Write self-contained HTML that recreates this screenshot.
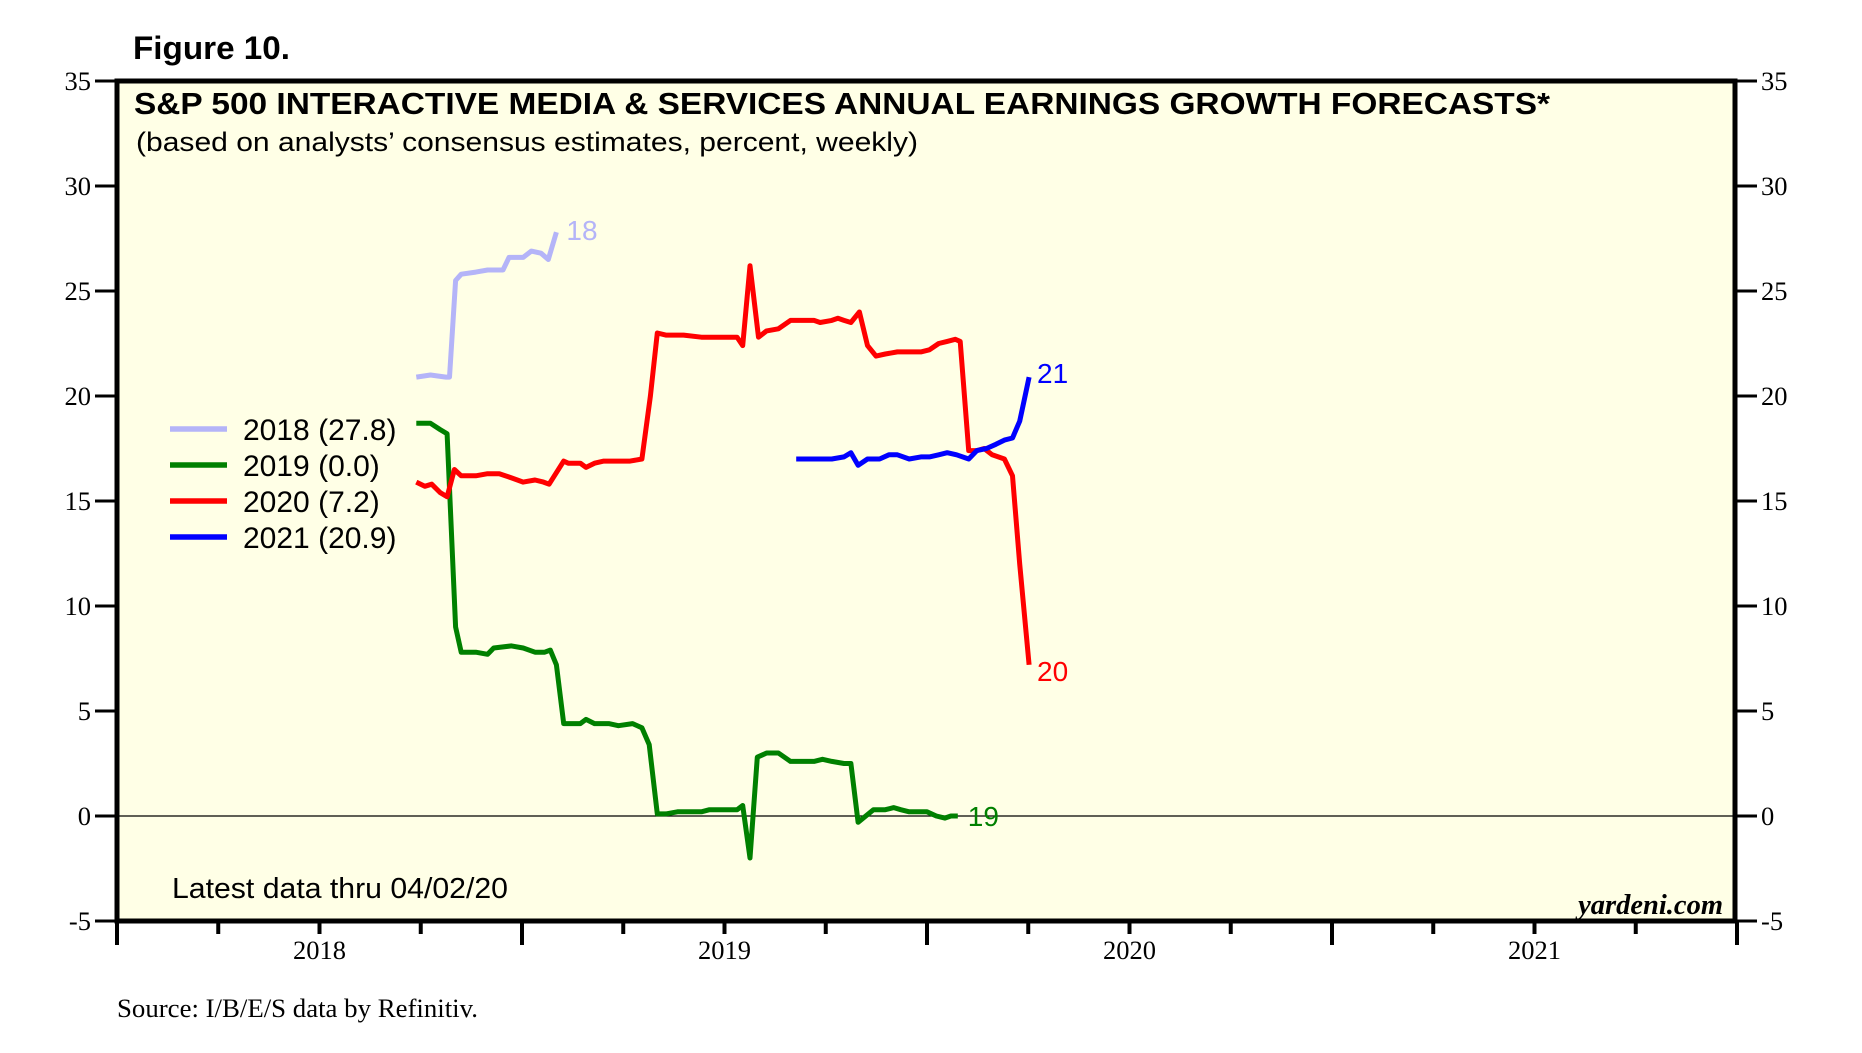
<!DOCTYPE html>
<html><head><meta charset="utf-8"><style>
html,body{margin:0;padding:0;background:#fff;}
svg{display:block;}
</style></head><body>
<svg id="chart" width="1862" height="1053" viewBox="0 0 1862 1053" xmlns="http://www.w3.org/2000/svg">
<rect x="117" y="81" width="1618" height="840" fill="#ffffe6"/>
<g id="grid"></g>
<g id="series"></g>
<rect x="117" y="81" width="1618" height="840" fill="none" stroke="#000" stroke-width="5"/>
<g id="axes" font-family="'Liberation Serif',serif" font-size="26.5" fill="#000"></g>
<text x="133" y="59" font-family="'Liberation Sans',sans-serif" font-weight="bold" font-size="32" textLength="157" lengthAdjust="spacingAndGlyphs">Figure 10.</text>
<text x="134" y="114" font-family="'Liberation Sans',sans-serif" font-weight="bold" font-size="30.5" textLength="1416" lengthAdjust="spacingAndGlyphs">S&amp;P 500 INTERACTIVE MEDIA &amp; SERVICES ANNUAL EARNINGS GROWTH FORECASTS*</text>
<text x="136" y="151" font-family="'Liberation Sans',sans-serif" font-size="27" textLength="782" lengthAdjust="spacingAndGlyphs">(based on analysts’ consensus estimates, percent, weekly)</text>
<g id="legend" font-family="'Liberation Sans',sans-serif" font-size="30"></g>
<text x="172" y="898" font-family="'Liberation Sans',sans-serif" font-size="29" textLength="336" lengthAdjust="spacingAndGlyphs">Latest data thru  04/02/20</text>
<text x="1723" y="914" text-anchor="end" font-family="'Liberation Serif',serif" font-style="italic" font-weight="bold" font-size="28.5">yardeni.com</text>
<text x="117" y="1017" font-family="'Liberation Serif',serif" font-size="26.5" textLength="361" lengthAdjust="spacingAndGlyphs">Source: I/B/E/S data by Refinitiv.</text>
</svg>
<script>
const yTicks = [-5, 0, 5, 10, 15, 20, 25, 30, 35];
const yearLabels = ["2018", "2019", "2020", "2021"];
const seriesNames = ["2018 (27.8)", "2019 (0.0)", "2020 (7.2)", "2021 (20.9)"];
const endLabels = ["18", "19", "20", "21"];

const x2018 = [2018.739,2018.774,2018.812,2018.821,2018.836,2018.850,2018.886,2018.915,2018.953,2018.968,2019.003,2019.023,2019.047,2019.065,2019.085];
const v2018 = [20.9,21.0,20.9,20.9,25.5,25.8,25.9,26.0,26.0,26.6,26.6,26.9,26.8,26.5,27.8];

const x2019 = [2018.739,2018.774,2018.798,2018.815,2018.836,2018.850,2018.886,2018.915,2018.930,2018.974,2019.003,2019.032,2019.056,2019.070,2019.085,2019.103,2019.144,2019.158,2019.179,2019.214,2019.238,2019.273,2019.296,2019.314,2019.334,2019.355,2019.384,2019.413,2019.443,2019.463,2019.501,2019.531,2019.545,2019.563,2019.581,2019.604,2019.633,2019.663,2019.692,2019.721,2019.742,2019.765,2019.795,2019.812,2019.830,2019.868,2019.897,2019.918,2019.935,2019.956,2020.000,2020.023,2020.044,2020.059,2020.076];
const v2019 = [18.7,18.7,18.4,18.2,9.0,7.8,7.8,7.7,8.0,8.1,8.0,7.8,7.8,7.9,7.2,4.4,4.4,4.6,4.4,4.4,4.3,4.4,4.2,3.4,0.1,0.1,0.2,0.2,0.2,0.3,0.3,0.3,0.5,-2.0,2.8,3.0,3.0,2.6,2.6,2.6,2.7,2.6,2.5,2.5,-0.3,0.3,0.3,0.4,0.3,0.2,0.2,0.0,-0.1,0.0,0.0];

const x2020 = [2018.739,2018.760,2018.777,2018.798,2018.815,2018.833,2018.850,2018.886,2018.915,2018.944,2018.974,2019.003,2019.032,2019.053,2019.067,2019.103,2019.114,2019.144,2019.158,2019.179,2019.202,2019.238,2019.267,2019.296,2019.317,2019.334,2019.355,2019.399,2019.443,2019.472,2019.501,2019.531,2019.545,2019.563,2019.584,2019.604,2019.633,2019.663,2019.692,2019.721,2019.736,2019.765,2019.780,2019.795,2019.812,2019.833,2019.853,2019.874,2019.897,2019.927,2019.956,2019.985,2020.006,2020.029,2020.050,2020.070,2020.082,2020.103,2020.123,2020.141,2020.161,2020.191,2020.211,2020.229,2020.252];
const v2020 = [15.9,15.7,15.8,15.4,15.2,16.5,16.2,16.2,16.3,16.3,16.1,15.9,16.0,15.9,15.8,16.9,16.8,16.8,16.6,16.8,16.9,16.9,16.9,17.0,20.0,23.0,22.9,22.9,22.8,22.8,22.8,22.8,22.4,26.2,22.8,23.1,23.2,23.6,23.6,23.6,23.5,23.6,23.7,23.6,23.5,24.0,22.4,21.9,22.0,22.1,22.1,22.1,22.2,22.5,22.6,22.7,22.6,17.4,17.4,17.5,17.2,17.0,16.2,12.0,7.2];

const x2021 = [2019.677,2019.721,2019.765,2019.795,2019.812,2019.830,2019.853,2019.883,2019.906,2019.927,2019.956,2019.985,2020.006,2020.029,2020.050,2020.073,2020.103,2020.123,2020.147,2020.170,2020.191,2020.211,2020.229,2020.240,2020.252];
const v2021 = [17.0,17.0,17.0,17.1,17.3,16.7,17.0,17.0,17.2,17.2,17.0,17.1,17.1,17.2,17.3,17.2,17.0,17.4,17.5,17.7,17.9,18.0,18.8,19.8,20.9];

const NS = "http://www.w3.org/2000/svg";
const L = 117, R = 1737, T = 81, B = 921;
const xMin = 2018, xMax = 2022, yMin = -5, yMax = 35;
function sx(v){ return L + (v - xMin) / (xMax - xMin) * (R - L); }
function sy(v){ return B - (v - yMin) / (yMax - yMin) * (B - T); }
function mk(tag, attrs, parent){
  const e = document.createElementNS(NS, tag);
  for (const k in attrs) e.setAttribute(k, attrs[k]);
  parent.appendChild(e);
  return e;
}
const grid = document.getElementById('grid');
const axes = document.getElementById('axes');
const seriesG = document.getElementById('series');
const legend = document.getElementById('legend');

const zl = mk('line', {x1: L, x2: R, y1: sy(0), y2: sy(0), stroke: '#000', 'stroke-width': 1.2}, grid);



yTicks.forEach(v => {
  const y = sy(v);
  const t1 = mk('line', {x1: L - 22, x2: L, y1: y, y2: y, stroke: '#000', 'stroke-width': 3}, axes);
  
  
  const t2 = mk('line', {x1: R - 2, x2: R + 20, y1: y, y2: y, stroke: '#000', 'stroke-width': 3}, axes);
  
  
  const a = mk('text', {x: L - 26, y: y + 9, 'text-anchor': 'end'}, axes);
  a.textContent = v;
  
  
  const b = mk('text', {x: R + 24, y: y + 9}, axes);
  b.textContent = v;
  
  
});

for (let q = 0; q <= yearLabels.length * 4; q++) {
  const x = sx(xMin + q / 4);
  const major = q % 4 === 0;
  const tk = mk('line', {x1: x, x2: x, y1: B, y2: major ? B + 24 : B + 13, stroke: '#000', 'stroke-width': 4}, axes);
  
  
}
yearLabels.forEach((lab, i) => {
  const t = mk('text', {x: sx(xMin + i + 0.5), y: 959, 'text-anchor': 'middle'}, axes);
  t.textContent = lab;
  
  
});

const colors = ['#b4b4f8', '#008000', '#ff0000', '#0000ff'];
const xs = [x2018, x2019, x2020, x2021];
const vs = [v2018, v2019, v2020, v2021];
const names = ['series-2018', 'series-2019', 'series-2020', 'series-2021'];
const endOffsets = [[10, -2], [10, 0], [8, 6], [8, -4]];
xs.forEach((xa, i) => {
  const d = xa.map((x, j) => (j ? 'L' : 'M') + sx(x).toFixed(1) + ',' + sy(vs[i][j]).toFixed(1)).join(' ');
  const p = mk('path', {d: d, fill: 'none', stroke: colors[i], 'stroke-width': 5, 'stroke-linejoin': 'round'}, seriesG);
  
  
  const lx = sx(xa[xa.length - 1]), ly = sy(vs[i][vs[i].length - 1]);
  const t = mk('text', {x: lx + endOffsets[i][0], y: ly + 10 + endOffsets[i][1], fill: colors[i], 'font-family': "'Liberation Sans',sans-serif", 'font-size': 28}, seriesG);
  t.textContent = endLabels[i];
  
  
});

seriesNames.forEach((n, i) => {
  const y = 429 + i * 36;
  const ln = mk('line', {x1: 170, x2: 227, y1: y, y2: y, stroke: colors[i], 'stroke-width': 5.5}, legend);
  
  
  const t = mk('text', {x: 243, y: y + 11}, legend);
  t.textContent = n;
  
  
});
</script>
</body></html>
